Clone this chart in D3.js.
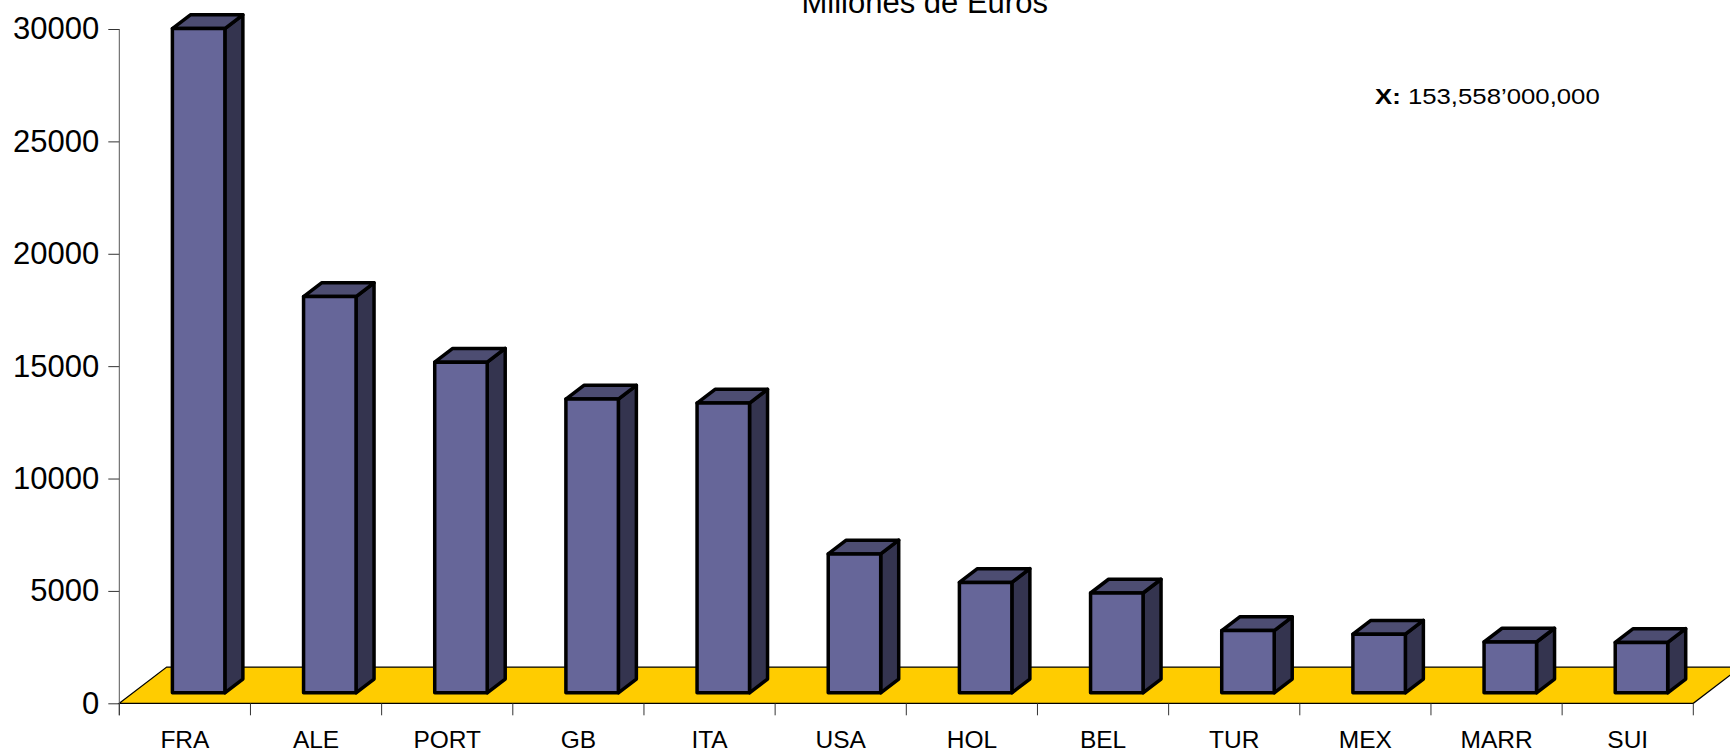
<!DOCTYPE html>
<html>
<head>
<meta charset="utf-8">
<script src="https://cdn.jsdelivr.net/npm/d3@7"></script>
<style>
  html, body { margin: 0; padding: 0; background: #ffffff; overflow: hidden; }
  svg { display: block; font-family: "Liberation Sans", Arial, sans-serif; }
</style>
</head>
<body>
<svg id="chart" width="1730" height="752"></svg>
<script>
// ---- data ----
const categories = ["FRA", "ALE", "PORT", "GB", "ITA", "USA", "HOL", "BEL", "TUR", "MEX", "MARR", "SUI"];
const values = [29550, 17630, 14710, 13070, 12890, 6180, 4910, 4440, 2770, 2610, 2260, 2240];
const yTickValues = [0, 5000, 10000, 15000, 20000, 25000, 30000];
const titleText = "Millones de Euros";
const noteLabel = "X:";
const noteValue = " 153,558\u2019000,000";

// ---- layout ----
const svg = d3.select("#chart");
const plotLeft = 119.3, plotRight = 1693.3, plotBottom = 703.3, plotTop = 29;
const floorDx = 47.4, floorDy = 36.2;   // depth vector of the floor
const z0 = 0.29, z1 = 0.67;            // bar depth span (fraction of floor depth)
const barFrac = 0.40;

const x = d3.scaleBand().domain(categories).range([plotLeft, plotRight]).paddingInner(0).paddingOuter(0);
const y = d3.scaleLinear().domain([0, 30000]).range([plotBottom, plotTop]);

// ---- floor ----
const fy = y(0);
svg.append("polygon")
  .attr("points", [
    [plotLeft, fy], [plotLeft + floorDx, fy - floorDy],
    [plotRight + floorDx, fy - floorDy], [plotRight, fy]
  ].map(p => p.join(",")).join(" "))
  .attr("fill", "#FFCC00")
  .attr("stroke", "#000")
  .attr("stroke-width", 1.2);

// ---- y axis ----
const yAxis = d3.axisLeft(y).tickValues(yTickValues).tickFormat(d3.format("d")).tickSize(11).tickPadding(9);
const gy = svg.append("g").attr("transform", `translate(${plotLeft},0)`).call(yAxis);
gy.select(".domain").remove();
gy.selectAll(".tick line").attr("stroke", "#333").attr("stroke-width", 1);
gy.selectAll(".tick text").attr("font-size", 31).attr("fill", "#000")
  .attr("font-family", "'Liberation Sans', Arial, sans-serif");
svg.append("line")
  .attr("x1", plotLeft).attr("x2", plotLeft)
  .attr("y1", y(30000)).attr("y2", plotBottom + 12)
  .attr("stroke", "#555").attr("stroke-width", 1);

// ---- x axis: boundary ticks + centered labels ----
svg.append("g").selectAll("line")
  .data(d3.range(categories.length + 1))
  .join("line")
  .attr("x1", i => plotLeft + i * x.step())
  .attr("x2", i => plotLeft + i * x.step())
  .attr("y1", plotBottom).attr("y2", plotBottom + 12)
  .attr("stroke", "#333").attr("stroke-width", 1);

const xAxis = d3.axisBottom(x).tickSize(0).tickPadding(27.6);
const gx = svg.append("g").attr("transform", `translate(0,${plotBottom})`).call(xAxis);
gx.select(".domain").remove();
gx.selectAll(".tick text").attr("font-size", 24.5).attr("fill", "#000")
  .attr("font-family", "'Liberation Sans', Arial, sans-serif");

// ---- 3D bars ----
const bw = x.bandwidth() * barFrac;
const ddx = (z1 - z0) * floorDx, ddy = (z1 - z0) * floorDy;
const data = categories.map((c, i) => ({ c, v: values[i] }));

const bars = svg.append("g").selectAll("g.bar").data(data).join("g").attr("class", "bar");
function geom(d) {
  const cx = x(d.c) + x.bandwidth() / 2 + z0 * floorDx;
  const l = cx - bw / 2, r = cx + bw / 2;
  const base = y(0) - z0 * floorDy;
  const top = y(d.v) - z0 * floorDy;
  return { l, r, base, top };
}
const pts = arr => arr.map(p => p.join(",")).join(" ");
bars.append("polygon") // side
  .attr("points", d => { const g = geom(d); return pts([[g.r, g.top], [g.r + ddx, g.top - ddy], [g.r + ddx, g.base - ddy], [g.r, g.base]]); })
  .attr("fill", "#34344f");
bars.append("polygon") // top
  .attr("points", d => { const g = geom(d); return pts([[g.l, g.top], [g.l + ddx, g.top - ddy], [g.r + ddx, g.top - ddy], [g.r, g.top]]); })
  .attr("fill", "#4d4d72");
bars.append("polygon") // front
  .attr("points", d => { const g = geom(d); return pts([[g.l, g.top], [g.r, g.top], [g.r, g.base], [g.l, g.base]]); })
  .attr("fill", "#666699");
bars.selectAll("polygon")
  .attr("stroke", "#000").attr("stroke-width", 3.5).attr("stroke-linejoin", "round");

// ---- title & note ----
svg.append("text")
  .attr("x", 924.7).attr("y", 13.3)
  .attr("text-anchor", "middle")
  .attr("font-size", 31)
  .attr("fill", "#000")
  .text(titleText);

const note = svg.append("text")
  .attr("transform", "translate(1375,103.5) scale(1.12,1)")
  .attr("font-size", 23)
  .attr("fill", "#000");
note.append("tspan").attr("font-weight", "bold").text(noteLabel);
note.append("tspan").text(noteValue);
</script>
</body>
</html>
